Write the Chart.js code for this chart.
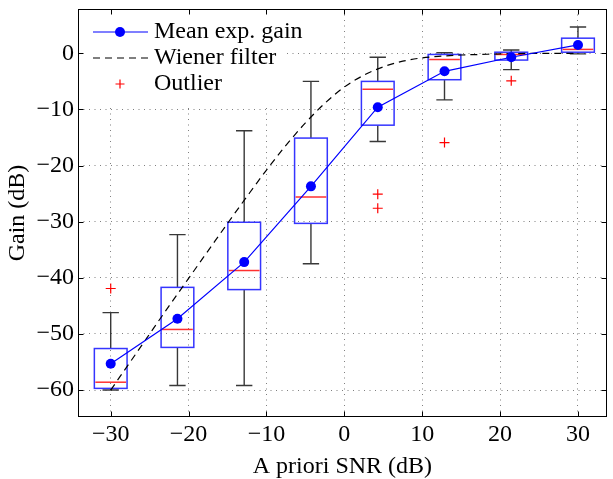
<!DOCTYPE html>
<html>
<head>
<meta charset="utf-8">
<title>Gain vs a priori SNR</title>
<script src="https://cdn.jsdelivr.net/npm/chart.js"></script>
<style>
  html, body { margin: 0; padding: 0; background: #fff; }
  #wrap { width: 613px; height: 479px; }
</style>
</head>
<body>
<div id="wrap"><canvas id="chart" width="613" height="479"></canvas></div>
<script>
// positions of the boxes on the SNR axis (dB)
var snrPositions = [-30, -21.43, -12.86, -4.29, 4.29, 12.86, 21.43, 30];
// box plot statistics (dB)
var whiskerLow  = [-60.0, -59.2, -59.2, -37.5, -15.7, -8.3, -2.9, -0.1];
var q1          = [-59.7, -52.4, -42.1, -30.3, -12.8, -4.7, -1.2, 0.2];
var median      = [-58.6, -49.2, -38.7, -25.6, -6.4, -1.1, -0.2, 0.7];
var q3          = [-52.6, -41.7, -30.1, -15.1, -5.0, -0.2, 0.2, 2.7];
var whiskerHigh = [-46.2, -32.3, -13.8, -5.0, -0.7, 0.1, 0.6, 4.7];
var meanGain    = [-55.3, -47.3, -37.2, -23.7, -9.6, -3.2, -0.7, 1.5];
// outliers
var outlierSnr  = [-30, 4.29, 4.29, 12.86, 21.43];
var outlierGain = [-41.9, -25.1, -27.6, -15.9, -4.9];
// Wiener filter curve
var wienerSnr  = [-30, -27.5, -25, -22.5, -20, -17.5, -15, -12.5, -10, -7.5, -5, -2.5, 0, 2.5, 5, 7.5, 10, 12.5, 15, 17.5, 20, 25, 30];
var wienerGain = [-60.0, -55.0, -50.0, -45.0, -40.1, -35.2, -30.3, -25.5, -20.8, -16.4, -12.4, -8.9, -6.0, -3.9, -2.4, -1.4, -0.8, -0.5, -0.3, -0.2, -0.1, 0.0, 0.0];
// ticks and labels
var xTicks = [-30, -20, -10, 0, 10, 20, 30];
var yTicks = [-60, -50, -40, -30, -20, -10, 0];
var legendLabels = ['Mean exp. gain', 'Wiener filter', 'Outlier'];

function pts(xs, ys) {
  return xs.map(function (x, i) { return { x: x, y: ys[i] }; });
}
function minusLabel(v) {
  return v < 0 ? '\u2212' + Math.abs(v) : String(v);
}

var FONT = { family: 'Liberation Serif', size: 24 };
var BLUE = '#0000ff';

// boxes and whiskers, drawn under the lines
var boxPlugin = {
  id: 'boxes',
  beforeDatasetsDraw: function (chart) {
    var ctx = chart.ctx, xs = chart.scales.x, ys = chart.scales.y;
    ctx.save();
    snrPositions.forEach(function (p, i) {
      var cx = xs.getPixelForValue(p);
      var l = xs.getPixelForValue(p - 2.1), r = xs.getPixelForValue(p + 2.1);
      var cl = xs.getPixelForValue(p - 1.05), cr = xs.getPixelForValue(p + 1.05);
      var yLo = ys.getPixelForValue(whiskerLow[i]), yHi = ys.getPixelForValue(whiskerHigh[i]);
      var yQ1 = ys.getPixelForValue(q1[i]), yQ3 = ys.getPixelForValue(q3[i]);
      var yMed = ys.getPixelForValue(median[i]);
      // whiskers
      ctx.strokeStyle = '#383838';
      ctx.lineWidth = 1.4;
      ctx.beginPath();
      ctx.moveTo(cx, yQ3); ctx.lineTo(cx, yHi);
      ctx.moveTo(cl, yHi); ctx.lineTo(cr, yHi);
      ctx.moveTo(cx, yQ1); ctx.lineTo(cx, yLo);
      ctx.moveTo(cl, yLo); ctx.lineTo(cr, yLo);
      ctx.stroke();
      // box
      ctx.strokeStyle = '#3535ff';
      ctx.lineWidth = 1.5;
      ctx.strokeRect(l, yQ3, r - l, yQ1 - yQ3);
      // median
      ctx.strokeStyle = '#ff3030';
      ctx.beginPath();
      ctx.moveTo(l + 1, yMed); ctx.lineTo(r - 1, yMed);
      ctx.stroke();
    });
    ctx.restore();
  },
  afterDatasetsDraw: function (chart) {
    // legend in the upper left corner of the axes
    var ctx = chart.ctx, a = chart.chartArea;
    ctx.save();
    ctx.fillStyle = '#fff';
    ctx.fillRect(a.left + 1, a.top + 1, 204, 95);
    var x0 = a.left + 15, x1 = a.left + 70, xm = a.left + 42, tx = a.left + 76;
    var rows = [a.top + 23, a.top + 49, a.top + 75];
    ctx.lineWidth = 1.2;
    ctx.strokeStyle = BLUE;
    ctx.beginPath(); ctx.moveTo(x0, rows[0]); ctx.lineTo(x1, rows[0]); ctx.stroke();
    ctx.fillStyle = BLUE;
    ctx.beginPath(); ctx.arc(xm, rows[0], 5, 0, Math.PI * 2); ctx.fill();
    ctx.strokeStyle = '#000';
    ctx.setLineDash([7, 5]);
    ctx.beginPath(); ctx.moveTo(x0, rows[1]); ctx.lineTo(x1 + 2, rows[1]); ctx.stroke();
    ctx.setLineDash([]);
    ctx.strokeStyle = '#ff0000';
    ctx.beginPath();
    ctx.moveTo(xm - 4.5, rows[2]); ctx.lineTo(xm + 4.5, rows[2]);
    ctx.moveTo(xm, rows[2] - 4.5); ctx.lineTo(xm, rows[2] + 4.5);
    ctx.stroke();
    ctx.fillStyle = '#000';
    ctx.font = FONT.size + 'px ' + FONT.family;
    ctx.textBaseline = 'middle';
    ctx.textAlign = 'left';
    legendLabels.forEach(function (t, i) { ctx.fillText(t, tx, rows[i]); });
    ctx.restore();
  },
  afterDraw: function (chart) {
    // axes frame with inward ticks
    var ctx = chart.ctx, a = chart.chartArea, xs = chart.scales.x, ys = chart.scales.y;
    var L = Math.round(a.left) + 0.5, R = Math.round(a.right) - 0.5;
    var T = Math.round(a.top) + 0.5, B = Math.round(a.bottom) - 0.5;
    ctx.save();
    ctx.strokeStyle = '#000';
    ctx.lineWidth = 1;
    ctx.strokeRect(L, T, R - L, B - T);
    ctx.beginPath();
    xTicks.forEach(function (v) {
      var px = Math.round(xs.getPixelForValue(v)) + 0.5;
      ctx.moveTo(px, B); ctx.lineTo(px, B - 5);
      ctx.moveTo(px, T); ctx.lineTo(px, T + 5);
    });
    yTicks.forEach(function (v) {
      var py = Math.round(ys.getPixelForValue(v)) + 0.5;
      ctx.moveTo(L, py); ctx.lineTo(L + 5, py);
      ctx.moveTo(R, py); ctx.lineTo(R - 5, py);
    });
    ctx.stroke();
    ctx.restore();
  }
};

new Chart(document.getElementById('chart'), {
  type: 'line',
  data: {
    datasets: [
      {
        label: legendLabels[0],
        data: pts(snrPositions, meanGain),
        borderColor: BLUE,
        backgroundColor: BLUE,
        borderWidth: 1.2,
        pointRadius: 5,
        pointBorderWidth: 0,
        tension: 0
      },
      {
        label: legendLabels[1],
        data: pts(wienerSnr, wienerGain),
        borderColor: '#000',
        borderWidth: 1.2,
        borderDash: [7, 5],
        pointRadius: 0,
        cubicInterpolationMode: 'monotone'
      },
      {
        label: legendLabels[2],
        data: pts(outlierSnr, outlierGain),
        showLine: false,
        pointStyle: 'cross',
        pointRadius: 5,
        borderColor: '#ff0000',
        borderWidth: 1.2
      }
    ]
  },
  options: {
    responsive: false,
    animation: false,
    devicePixelRatio: 1,
    events: [],
    layout: { padding: { left: 0, top: 9, right: 4, bottom: 0 } },
    plugins: { legend: { display: false }, tooltip: { enabled: false } },
    scales: {
      x: {
        type: 'linear',
        min: -34.2,
        max: 33.7,
        afterBuildTicks: function (s) { s.ticks = xTicks.map(function (v) { return { value: v }; }); },
        afterFit: function (s) { s.height = 62; s.paddingLeft = 0; s.paddingRight = 0; },
        ticks: { font: FONT, color: '#000', padding: 3, maxRotation: 0, callback: minusLabel },
        grid: { color: 'rgba(0,0,0,0.5)', lineWidth: 1, drawTicks: false },
        border: { display: false, dash: [1, 4.5] },
        title: {
          display: true,
          text: 'A priori SNR (dB)',
          color: '#000',
          font: { family: FONT.family, size: 24, lineHeight: 1 },
          padding: { top: 0, bottom: 0 }
        }
      },
      y: {
        type: 'linear',
        min: -64.8,
        max: 7.9,
        afterBuildTicks: function (s) { s.ticks = yTicks.map(function (v) { return { value: v }; }); },
        afterFit: function (s) { s.width = 78; s.paddingTop = 0; s.paddingBottom = 0; },
        ticks: { font: FONT, color: '#000', padding: 4, callback: minusLabel },
        grid: { color: 'rgba(0,0,0,0.5)', lineWidth: 1, drawTicks: false },
        border: { display: false, dash: [1, 4.5] },
        title: {
          display: true,
          text: 'Gain (dB)',
          color: '#000',
          font: { family: FONT.family, size: 24, lineHeight: 1 },
          padding: { top: 6, bottom: 0 }
        }
      }
    }
  },
  plugins: [boxPlugin]
});
</script>
</body>
</html>
